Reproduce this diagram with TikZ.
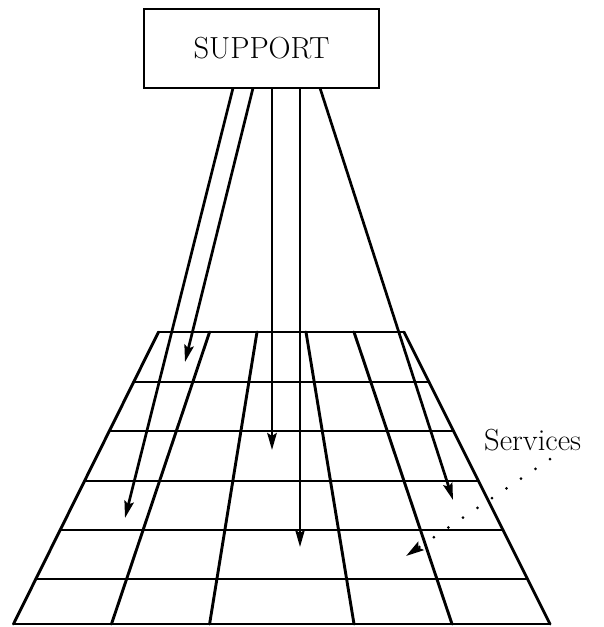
\documentclass[tikz,border=0pt]{standalone}
\usetikzlibrary{arrows.meta,calc}
\begin{document}
\begin{tikzpicture}[x=1pt,y=-1pt,
  gridline/.style={line width=2.9pt, line cap=round, line join=round},
  supply/.style={line width=2.7pt, -{Stealth[length=17pt,width=9.5pt,inset=3pt]}},
  leader/.style={line width=3pt, line cap=round, dash pattern=on 0pt off 17.5pt,
    -{Stealth[length=18pt,width=10pt,inset=3pt]}},
  lbl/.style={font=\fontsize{30.5}{36}\selectfont, inner sep=0pt},
  boxstyle/.style={draw, line width=2.9pt, minimum width=235pt, minimum height=79pt}]
\useasboundingbox (0,0) rectangle (603,627);
% support box
\node[boxstyle, lbl] (support) at (261.5,48.5) {SUPPORT};
% grid corners
\coordinate (tl) at (158.5,332);
\coordinate (tr) at (404,332);
\coordinate (bl) at (13.5,624);
\coordinate (br) at (550,624);
% horizontal lines
\foreach \yy in {332,382,431,481,530,579,624} {
  \draw[gridline] ($(tl)!{(\yy-332)/292}!(bl)$) -- ($(tr)!{(\yy-332)/292}!(br)$);
}
% edges and interior verticals
\draw[gridline] (tl) -- (bl);
\draw[gridline] (tr) -- (br);
\foreach \xt/\xb in {209.6/111.5, 257/209.6, 306/354, 354/452} {
  \draw[gridline] (\xt,332) -- (\xb,624);
}
% supply arrows
\coordinate (s1) at (233,88);
\coordinate (s2) at (253,88);
\coordinate (s3) at (272,88);
\coordinate (s4) at (300,88);
\coordinate (s5) at (320,88);
\coordinate (t1) at (125,518);
\coordinate (t2) at (185,362);
\coordinate (t3) at (272,450);
\coordinate (t4) at (300,547);
\coordinate (t5) at (453,500);
\draw[supply] (s1) -- (t1);
\draw[supply] (s2) -- (t2);
\draw[supply] (s3) -- (t3);
\draw[supply] (s4) -- (t4);
\draw[supply] (s5) -- (t5);
% services label and leader
\node[lbl, anchor=base west] (services) at (484,450) {Services};
\coordinate (d0) at (550,459);
\coordinate (d1) at (406,556);
\draw[leader] (d0) -- (d1);
\end{tikzpicture}
\end{document}
